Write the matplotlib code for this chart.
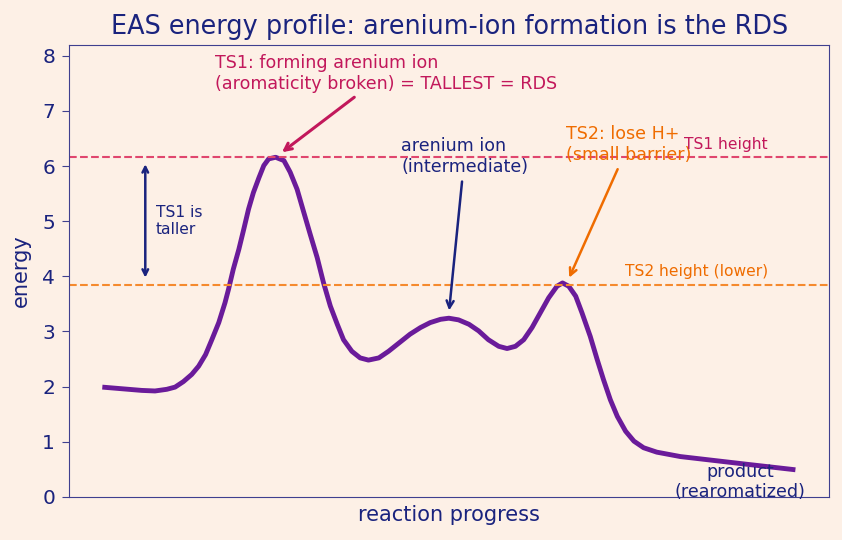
import matplotlib
matplotlib.use("Agg")
import matplotlib.pyplot as plt

# energy profile (x = reaction progress, y = energy)
progress = [0.00, 0.19, 0.38, 0.57, 0.76, 0.93, 1.05, 1.17, 1.29, 1.39, 1.49, 1.58,
            1.68, 1.77, 1.82, 1.89, 1.97, 2.04, 2.11, 2.18, 2.26, 2.33, 2.40, 2.50,
            2.62, 2.71, 2.81, 2.90, 3.00, 3.10, 3.19, 3.29, 3.39, 3.48, 3.60, 3.72,
            3.84, 3.99, 4.13, 4.28, 4.44, 4.59, 4.73, 4.88, 5.00, 5.14, 5.29, 5.43,
            5.57, 5.72, 5.84, 5.96, 6.08, 6.20, 6.32, 6.44, 6.56, 6.64, 6.73, 6.83,
            6.92, 7.04, 7.14, 7.23, 7.33, 7.43, 7.55, 7.67, 7.81, 8.00, 8.34, 8.82,
            9.30, 10.0]
energy = [1.99, 1.97, 1.95, 1.93, 1.92, 1.95, 1.99, 2.09, 2.22, 2.37, 2.58, 2.85,
          3.16, 3.52, 3.76, 4.13, 4.49, 4.85, 5.22, 5.52, 5.79, 6.01, 6.13, 6.16,
          6.10, 5.89, 5.58, 5.19, 4.76, 4.34, 3.89, 3.46, 3.13, 2.85, 2.64, 2.52,
          2.48, 2.52, 2.64, 2.79, 2.95, 3.07, 3.16, 3.22, 3.24, 3.21, 3.13, 3.01,
          2.85, 2.73, 2.69, 2.73, 2.85, 3.07, 3.34, 3.61, 3.82, 3.88, 3.82, 3.64,
          3.34, 2.91, 2.49, 2.13, 1.76, 1.46, 1.19, 1.01, 0.89, 0.81, 0.73, 0.66,
          0.59, 0.49]
ts1_height = 6.16
ts2_height = 3.85

bg = "#fdf0e6"
navy = "#1a237e"
crimson = "#c2185b"
orange = "#ef6c00"

fig = plt.figure(figsize=(8.42, 5.4), dpi=100, facecolor=bg)
ax = fig.add_axes([0.082, 0.080, 0.903, 0.837], facecolor=bg)

ax.plot(progress, energy, color="#6a1b9a", lw=3.5, solid_joinstyle="round",
        solid_capstyle="butt")
ax.axhline(ts1_height, color="#e0466e", ls="--", lw=1.5)
ax.axhline(ts2_height, color="#f58a2e", ls="--", lw=1.5)

ax.annotate("TS1: forming arenium ion\n(aromaticity broken) = TALLEST = RDS",
            xy=(2.56, 6.22), xytext=(1.62, 7.33), ha="left", va="bottom",
            color=crimson, fontsize=12.6,
            arrowprops=dict(arrowstyle="->", color=crimson, lw=2.2))
ax.annotate("arenium ion\n(intermediate)",
            xy=(5.0, 3.33), xytext=(4.31, 5.82), ha="left", va="bottom",
            color=navy, fontsize=12.6,
            arrowprops=dict(arrowstyle="->", color=navy, lw=1.8))
ax.annotate("TS2: lose H+\n(small barrier)",
            xy=(6.72, 3.93), xytext=(6.69, 6.04), ha="left", va="bottom",
            color=orange, fontsize=12.6,
            arrowprops=dict(arrowstyle="->", color=orange, lw=1.8))
ax.annotate("", xy=(0.62, ts2_height), xytext=(0.62, ts1_height),
            arrowprops=dict(arrowstyle="<->", color=navy, lw=1.8,
                            shrinkA=5, shrinkB=5))
ax.text(0.77, 5.0, "TS1 is\ntaller", color=navy, fontsize=11.2, va="center")
ax.text(9.6, ts1_height + 0.1, "TS1 height", color=crimson, fontsize=11.2,
        ha="right", va="bottom")
ax.text(9.6, ts2_height + 0.1, "TS2 height (lower)", color=orange, fontsize=11.2,
        ha="right", va="bottom")
ax.text(9.2, 0.27, "product\n(rearomatized)", color=navy, fontsize=12.6,
        ha="center", va="center")

ax.set_xlim(-0.48, 10.49)
ax.set_ylim(0, 8.2)
ax.set_xticks([])
ax.set_yticks(range(0, 9))
ax.tick_params(axis="y", colors="#3f3f8f", labelcolor=navy, labelsize=14.5,
               length=5, pad=5)
for s in ax.spines.values():
    s.set_color("#3f3f8f")
ax.set_xlabel("reaction progress", color=navy, fontsize=15, labelpad=6)
ax.set_ylabel("energy", color=navy, fontsize=15, labelpad=8)
ax.set_title("EAS energy profile: arenium-ion formation is the RDS",
             color=navy, fontsize=18.4, pad=8)

fig.savefig("out.png", dpi=100, facecolor=bg)
